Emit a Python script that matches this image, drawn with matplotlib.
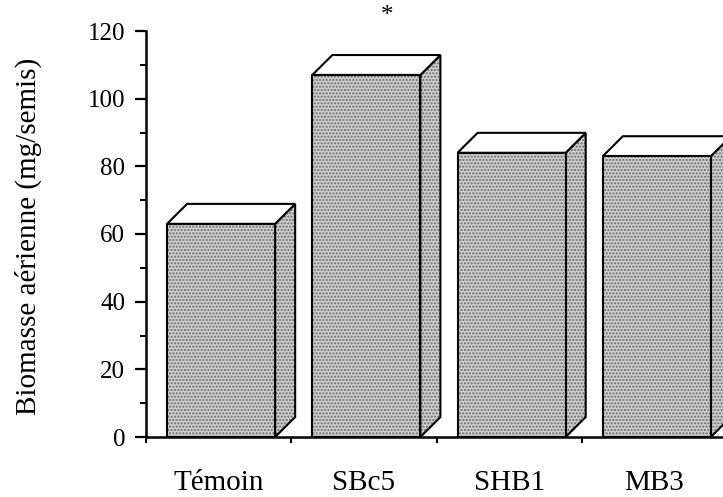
import numpy as np
import matplotlib
matplotlib.use("Agg")
import matplotlib.pyplot as plt
from matplotlib.patches import Polygon
from matplotlib.ticker import MultipleLocator

plt.rcParams['font.family'] = ['Liberation Serif', 'DejaVu Serif']
plt.rcParams['hatch.linewidth'] = 1.0

# biomasse aérienne moyenne par traitement
traitements = ['Témoin', 'SBc5', 'SHB1', 'MB3']
biomasse = [63, 107, 84, 83]
signif = ['', '*', '', '']

fig = plt.figure(figsize=(7.23, 4.97), dpi=100)
ax = fig.add_axes([146 / 723, 60 / 497, 581 / 723, 406 / 497])

x0 = np.arange(len(traitements)) + 0.145
larg = 0.744
dx, dy = 0.138, 5.9   # profondeur de la boîte 3D

fond = '#cdcdcd'
trame = '#6a6a6a'

# face avant : trame pointillée puis contour noir
ax.bar(x0, biomasse, width=larg, align='edge', color=fond, edgecolor=trame,
       linewidth=0, hatch='.....', zorder=3)
ax.bar(x0, biomasse, width=larg, align='edge', fill=False, edgecolor='black',
       linewidth=1.5, zorder=4)

for x, v, s in zip(x0, biomasse, signif):
    cote = [(x + larg, 0), (x + larg + dx, dy), (x + larg + dx, v + dy), (x + larg, v)]
    dessus = [(x, v), (x + dx, v + dy), (x + larg + dx, v + dy), (x + larg, v)]
    ax.add_patch(Polygon(cote, closed=True, facecolor=fond, edgecolor=trame,
                         linewidth=0, hatch='.....', zorder=2, clip_on=False))
    ax.add_patch(Polygon(cote, closed=True, fill=False, edgecolor='black',
                         linewidth=1.5, zorder=2, clip_on=False))
    ax.add_patch(Polygon(dessus, closed=True, facecolor='white', edgecolor='black',
                         linewidth=1.5, zorder=2, clip_on=False))
    if s:
        ax.text(x + larg / 2 + 0.14, v + 17.5, s, ha='center', va='center',
                fontsize=18, clip_on=False)

ax.set_xlim(0, 4)
ax.set_ylim(0, 120)
ax.spines['top'].set_visible(False)
ax.spines['right'].set_visible(False)
ax.spines['left'].set_linewidth(1.8)
ax.spines['bottom'].set_linewidth(1.8)

ax.yaxis.set_major_locator(MultipleLocator(20))
ax.yaxis.set_minor_locator(MultipleLocator(10))
ax.tick_params(axis='y', which='major', length=8, width=1.6, pad=7, labelsize=18)
ax.tick_params(axis='y', which='minor', length=4.5, width=1.4)
ax.set_xticks(np.arange(0, 5))
ax.set_xticklabels([])
ax.tick_params(axis='x', which='major', length=4.5, width=1.4)

for i, t in enumerate(traitements):
    ax.text(i + 0.5, -0.1305, t, transform=ax.get_xaxis_transform(),
            ha='center', va='baseline', fontsize=21)

fig.text(28 / 723, 1 - 236 / 497, 'Biomasse aérienne (mg/semis)', rotation=90,
         ha='center', va='center', fontsize=21)

fig.savefig('out.png', dpi=100)
